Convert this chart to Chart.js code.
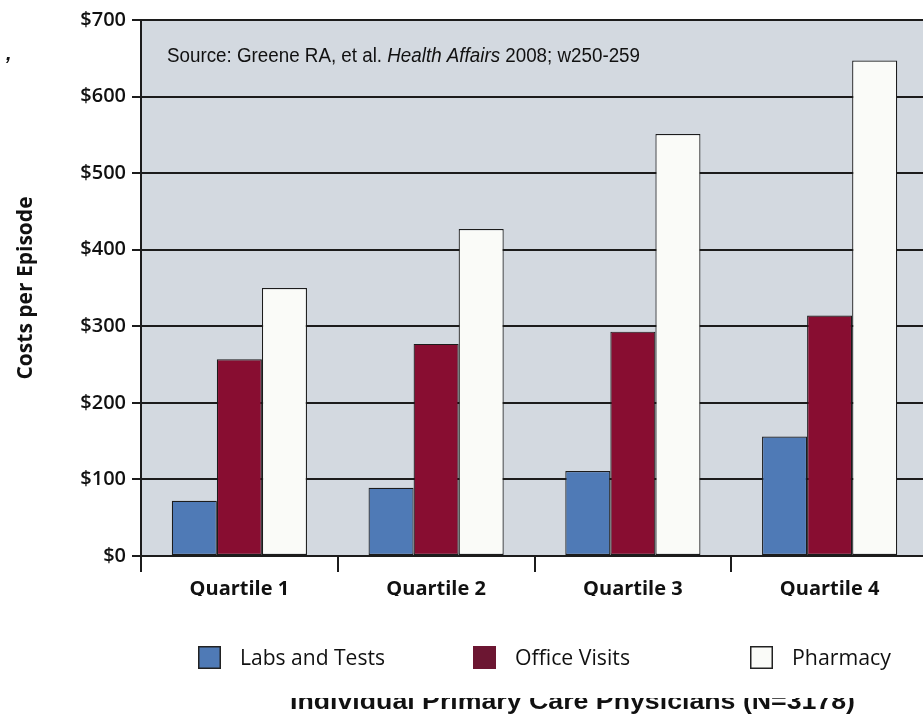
<!DOCTYPE html>
<html>
<head>
<meta charset="utf-8">
<script src="https://cdn.jsdelivr.net/npm/chart.js@4/dist/chart.umd.min.js"></script>
<style>
  html, body { margin: 0; padding: 0; background: #ffffff; overflow: hidden; }
  #wrap { position: absolute; left: 0; top: 0; width: 935px; height: 714px; }
</style>
</head>
<body>
<div id="wrap"><canvas id="c"></canvas></div>
<script>
const categories = ['Quartile 1', 'Quartile 2', 'Quartile 3', 'Quartile 4'];
const seriesNames = ['Labs and Tests', 'Office Visits', 'Pharmacy'];
const labsAndTests = [72, 89, 111, 156];
const officeVisits = [257, 277, 293, 314];
const pharmacy = [350, 427, 551, 647];
const yTicks = [0, 100, 200, 300, 400, 500, 600, 700];
const yAxisTitle = 'Costs per Episode';
const xAxisTitle = 'Individual Primary Care Physicians (N=3178)';
const sourceParts = [
  { text: 'Source: Greene RA, et al. ', italic: false },
  { text: 'Health Affairs', italic: true },
  { text: ' 2008; w250-259', italic: false }
];

const colors = ['#4f7ab6', '#880d31', '#fafbf8'];
const INK = '#1c1c1c';

function fitText(ctx, text, x, y, w) {
  const m = ctx.measureText(text).width;
  ctx.save();
  ctx.translate(x, y);
  ctx.scale(w / m, 1);
  ctx.fillText(text, 0, 0);
  ctx.restore();
}

const decor = {
  id: 'decor',
  beforeDraw(chart) {
    const { ctx, chartArea: a } = chart;
    ctx.save();
    ctx.fillStyle = '#d3d9e0';
    ctx.fillRect(a.left, a.top, a.right - a.left, a.bottom - a.top);
    ctx.restore();
  },
  afterDraw(chart) {
    const ctx = chart.ctx;
    ctx.save();
    ctx.fillStyle = '#111';
    ctx.textBaseline = 'alphabetic';
    // source text
    const fonts = p => (p.italic ? 'italic ' : '') + '20px "Liberation Sans", Arial, sans-serif';
    let total = 0;
    sourceParts.forEach(p => { ctx.font = fonts(p); total += ctx.measureText(p.text).width; });
    const k = 473 / total;
    let x = 167;
    sourceParts.forEach(p => {
      ctx.font = fonts(p);
      const w = ctx.measureText(p.text).width * k;
      fitText(ctx, p.text, x, 62, w);
      x += w;
    });
    // stray mark
    ctx.font = 'italic bold 20px "Liberation Sans", Arial, sans-serif';
    ctx.fillText(',', 6, 60);

    // legend
    const lx = [198, 473, 750];
    const tw = [145, 115, 99];
    chart.data.datasets.forEach((ds, i) => {
      ctx.fillStyle = i === 1 ? '#6c1632' : ds.backgroundColor;
      ctx.fillRect(lx[i], 646, 23, 23);
      ctx.strokeStyle = i === 1 ? '#6c1632' : '#222';
      ctx.lineWidth = 1.5;
      ctx.strokeRect(lx[i] + 0.75, 646.75, 21.5, 21.5);
      ctx.fillStyle = '#111';
      ctx.font = '22px "Open Sans", sans-serif';
      fitText(ctx, ds.label, lx[i] + 42, 665, tw[i]);
    });

    // x axis title (lower part only visible, as in the reference)
    ctx.save();
    ctx.beginPath();
    ctx.rect(0, 698, 935, 30);
    ctx.clip();
    ctx.font = 'bold 24px "Liberation Sans", Arial, sans-serif';
    ctx.fillStyle = '#111';
    fitText(ctx, xAxisTitle, 290, 709, 565);
    ctx.restore();
    ctx.restore();
  }
};

new Chart(document.getElementById('c'), {
  type: 'bar',
  data: {
    labels: categories,
    datasets: [
      { label: seriesNames[0], data: labsAndTests, backgroundColor: colors[0] },
      { label: seriesNames[1], data: officeVisits, backgroundColor: colors[1] },
      { label: seriesNames[2], data: pharmacy, backgroundColor: colors[2] }
    ].map(d => Object.assign(d, {
      borderColor: INK, borderWidth: 1.2, borderSkipped: false,
      categoryPercentage: 0.687, barPercentage: 1.0
    }))
  },
  options: {
    responsive: true,
    maintainAspectRatio: false,
    animation: false,
    layout: { padding: { top: 20, right: 7, bottom: 118, left: 0 } },
    plugins: { legend: { display: false }, tooltip: { enabled: false } },
    scales: {
      x: {
        offset: true,
        grid: { display: true, drawOnChartArea: false, drawTicks: true, tickLength: 16, color: INK, lineWidth: 2, offset: true },
        border: { display: true, color: INK, width: 2 },
        ticks: { color: '#111', padding: 5, font: { family: '"Open Sans", sans-serif', size: 20, weight: 'bold' } },
        afterFit: s => { s.height = 40; }
      },
      y: {
        min: 0, max: 700,
        afterBuildTicks: s => { s.ticks = yTicks.map(v => ({ value: v })); },
        grid: { color: INK, lineWidth: 2, tickLength: 9, drawTicks: true },
        border: { display: true, color: INK, width: 2 },
        ticks: {
          color: '#111', padding: 6,
          font: { family: '"Open Sans", sans-serif', size: 20, weight: '600' },
          callback: v => '$' + v
        },
        title: {
          display: true, text: yAxisTitle, color: '#111',
          font: { family: '"Open Sans", sans-serif', size: 21, weight: 'bold' },
          padding: { top: 13, bottom: 0 }
        },
        afterFit: s => { s.width = 141; }
      }
    }
  },
  plugins: [decor]
});
</script>
</body>
</html>
